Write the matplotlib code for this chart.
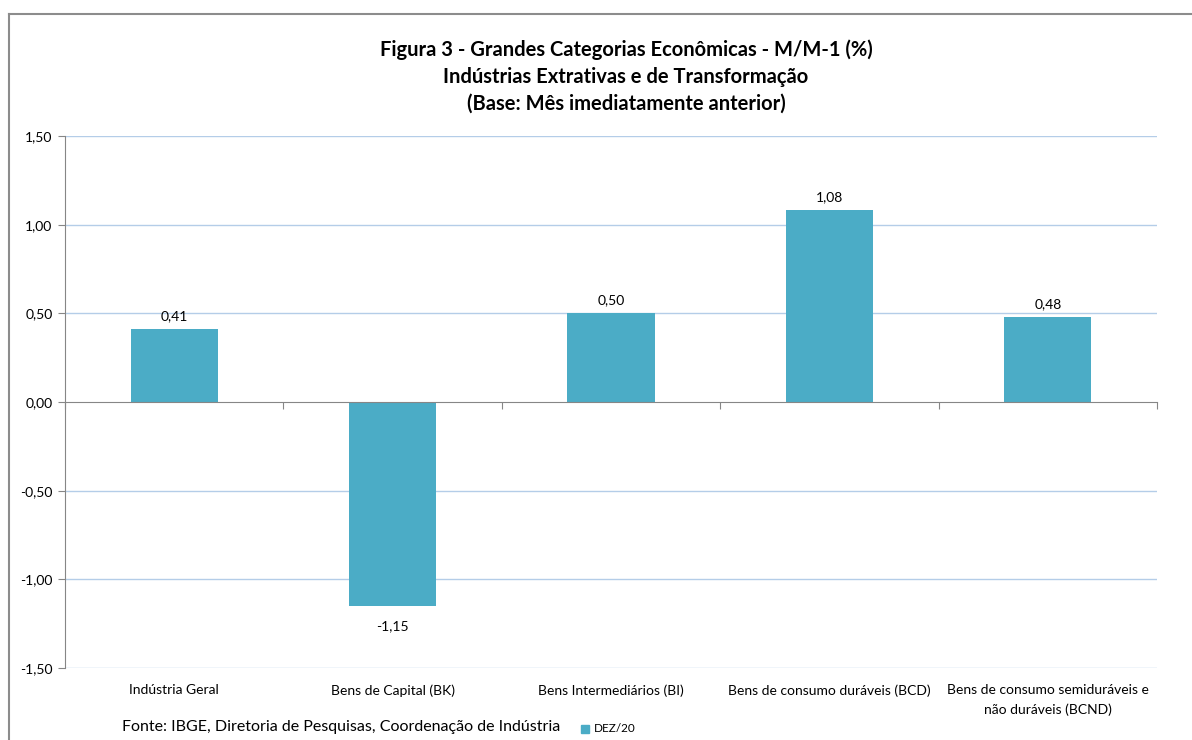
import numpy as np
import matplotlib
matplotlib.use("Agg")
import matplotlib.pyplot as plt
from matplotlib.lines import Line2D
from matplotlib.patches import Rectangle

# Data
categorias = ["Indústria Geral", "Bens de Capital (BK)", "Bens Intermediários (BI)",
              "Bens de consumo duráveis (BCD)",
              "Bens de consumo semiduráveis e\nnão duráveis (BCND)"]
valores = [0.41, -1.15, 0.50, 1.08, 0.48]
serie = "DEZ/20"
yticks = [-1.5, -1.0, -0.5, 0.0, 0.5, 1.0, 1.5]

titulo = ("Figura 3 - Grandes Categorias Econômicas - M/M-1 (%)\n"
          "Indústrias Extrativas e de Transformação\n"
          "(Base: Mês imediatamente anterior)")
fonte = "Fonte: IBGE, Diretoria de Pesquisas, Coordenação de Indústria"

cor_barra = "#4BACC6"
cor_grade = "#B4CDE8"
cor_eixo = "#868686"

plt.rcParams['font.family'] = ['Lato', 'DejaVu Sans']

W, H = 1192, 740
fig = plt.figure(figsize=(W / 100, H / 100), dpi=100)

# outer chart border (left and top only visible)
fig.add_artist(Line2D([9 / W, 9 / W], [0, 1 - 14 / H], transform=fig.transFigure,
                      color="#8c8c8c", lw=1.5))
fig.add_artist(Line2D([9 / W, 1], [1 - 14 / H, 1 - 14 / H], transform=fig.transFigure,
                      color="#8c8c8c", lw=1.5))

ax = fig.add_axes([65 / W, (H - 668) / H, (1157 - 65) / W, (668 - 136) / H])

x = np.arange(len(categorias))
ax.bar(x, valores, width=0.4, color=cor_barra, zorder=3)

ax.set_xlim(-0.5, len(categorias) - 0.5)
ax.set_ylim(-1.5, 1.5)
ax.set_yticks(yticks)
ax.set_yticklabels([f"{v:.2f}".replace(".", ",") for v in yticks], fontsize=10)
ax.tick_params(axis="y", length=5, color=cor_eixo, pad=4)

# grid
for v in yticks:
    if v != 0:
        ax.axhline(v, color=cor_grade, lw=1, zorder=1)

# x axis at zero with boundary ticks
ax.spines["bottom"].set_position(("data", 0))
ax.spines["bottom"].set_color(cor_eixo)
ax.spines["bottom"].set_zorder(4)
ax.spines["left"].set_color(cor_eixo)
ax.spines["top"].set_visible(False)
ax.spines["right"].set_visible(False)
ax.set_xticks(np.arange(-0.5, len(categorias), 1.0))
ax.set_xticklabels([])
ax.tick_params(axis="x", length=5, color=cor_eixo, direction="out")

# category labels below plot area
for i, c in enumerate(categorias):
    ax.text(i, -0.03, c, transform=ax.get_xaxis_transform(), ha="center", va="top",
            fontsize=10, linespacing=1.7)

# data labels
for i, v in enumerate(valores):
    txt = f"{v:.2f}".replace(".", ",")
    if v >= 0:
        ax.annotate(txt, (i, v), xytext=(0, 5), textcoords="offset points",
                    ha="center", va="bottom", fontsize=10)
    else:
        ax.annotate(txt, (i, v), xytext=(0, -10), textcoords="offset points",
                    ha="center", va="top", fontsize=10)

fig.text(626 / W, 1 - 39 / H, titulo, ha="center", va="top", fontsize=14.5,
         fontweight="bold", linespacing=1.45)

fig.text(122 / W, 1 - 727 / H, fonte, ha="left", va="center", fontsize=11.5)
fig.add_artist(Rectangle((581 / W, 1 - 733 / H), 8 / W, 8 / H, transform=fig.transFigure,
                         color=cor_barra))
fig.text(594 / W, 1 - 729 / H, serie, ha="left", va="center", fontsize=8.5)

fig.savefig("out.png", dpi=100)
